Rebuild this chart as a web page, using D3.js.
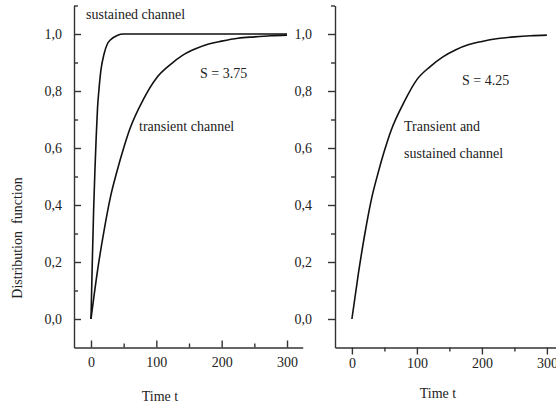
<!DOCTYPE html>
<html lang="en">
<head>
<meta charset="utf-8">
<title>Distribution function</title>
<script src="https://d3js.org/d3.v7.min.js"></script>
<style>
  body { margin: 0; background: white; }
  svg text { font-family: "Liberation Serif", Tinos, "Times New Roman", Times, "DejaVu Serif", serif; fill: #222; }
  .axis path, .axis line { stroke: #333; stroke-width: 1.4; }
  .axis text { font-size: 14px; }
  .curve { fill: none; stroke: #111; stroke-width: 1.6; }
</style>
</head>
<body>
<script>
// data
var times = [0, 10, 20, 30, 40, 50, 60, 80, 100, 120, 140, 160, 180, 200, 225, 250, 275, 300];
var transient = [0, 0.17, 0.31, 0.43, 0.52, 0.60, 0.67, 0.77, 0.845, 0.89, 0.925, 0.948, 0.965, 0.975, 0.985, 0.99, 0.994, 0.996];
var combined = [0, 0.16, 0.30, 0.42, 0.51, 0.59, 0.66, 0.76, 0.84, 0.885, 0.92, 0.945, 0.963, 0.974, 0.984, 0.99, 0.994, 0.996];

var sustTimes = [0, 2, 4, 6, 8, 10, 12, 15, 20, 25, 30, 40, 50, 60, 100, 200, 300];
var sustained = [0, 0.2, 0.38, 0.52, 0.64, 0.74, 0.8, 0.87, 0.93, 0.965, 0.98, 0.995, 1.0, 1.0, 1.0, 1.0, 1.0];

var yMajor = [0, 0.2, 0.4, 0.6, 0.8, 1.0];
var yMinor = [0.1, 0.3, 0.5, 0.7, 0.9, 1.1];
var xMajor = [0, 100, 200, 300];
var xMinor = [50, 150, 250];

var w = 556, h = 409;
var serif = '"Liberation Serif", Tinos, "Times New Roman", Times, "DejaVu Serif", serif';
var svg = d3.select("body").append("svg").attr("width", w).attr("height", h)
    .attr("font-family", serif);

var y = d3.scaleLinear().domain([-0.1, 1.1]).range([347.5, 5.5]);
var fmt = function(d) { return d3.format(".1f")(d).replace(".", ","); };

// one panel: left edge, direction of ticks (-1 inward, 1 outward)
function panel(x0, x1, dir, curves) {
    var x = d3.scaleLinear().domain([-26, 324]).range([x0, x1]);
    var tMaj = 7 * dir, tMin = 4 * dir;

    svg.append("g").attr("class", "axis")
        .attr("transform", "translate(" + x0 + ",0)")
        .call(d3.axisLeft(y).tickValues(yMinor).tickSize(tMin).tickSizeOuter(0).tickFormat(""));
    var ya = svg.append("g").attr("class", "axis")
        .attr("transform", "translate(" + x0 + ",0)")
        .call(d3.axisLeft(y).tickValues(yMajor).tickSize(tMaj).tickSizeOuter(0)
            .tickPadding(dir < 0 ? 12 : 16).tickFormat(fmt));
    ya.select(".domain").remove();

    svg.append("g").attr("class", "axis")
        .attr("transform", "translate(0," + y(-0.1) + ")")
        .call(d3.axisBottom(x).tickValues(xMinor).tickSize(tMin).tickSizeOuter(0).tickFormat(""));
    var xa = svg.append("g").attr("class", "axis")
        .attr("transform", "translate(0," + y(-0.1) + ")")
        .call(d3.axisBottom(x).tickValues(xMajor).tickSize(tMaj).tickSizeOuter(0)
            .tickPadding(dir < 0 ? 10 : 4));
    xa.select(".domain").remove();
    svg.selectAll(".axis").attr("font-family", serif);

    var line = d3.line().curve(d3.curveMonotoneX)
        .x(function(d) { return x(d[0]); })
        .y(function(d) { return y(d[1]); });
    curves.forEach(function(c) {
        svg.append("path").attr("class", "curve")
            .attr("d", line(d3.zip(c.t, c.v)));
    });
    return x;
}

panel(74, 302.7, -1, [
    {t: sustTimes, v: sustained},
    {t: times, v: transient}
]);
panel(335, 562.5, 1, [
    {t: times, v: combined}
]);

// labels
svg.append("text").attr("transform", "translate(22,238) rotate(-90)")
    .attr("text-anchor", "middle").style("font-size", "14px")
    .style("white-space", "pre").text("Distribution  function");
svg.append("text").attr("x", 160).attr("y", 401).attr("text-anchor", "middle")
    .style("font-size", "14px").text("Time t");
svg.append("text").attr("x", 438).attr("y", 398).attr("text-anchor", "middle")
    .style("font-size", "14px").text("Time t");

var notes = [
    {x: 86, y: 19, s: "sustained channel"},
    {x: 200, y: 78, s: "S = 3.75"},
    {x: 139, y: 131, s: "transient channel"},
    {x: 462, y: 85, s: "S = 4.25"},
    {x: 404, y: 131, s: "Transient and"},
    {x: 404, y: 158, s: "sustained channel"}
];
svg.selectAll("text.note").data(notes).enter().append("text")
    .attr("class", "note")
    .attr("x", function(d) { return d.x; })
    .attr("y", function(d) { return d.y; })
    .style("font-size", "14px")
    .text(function(d) { return d.s; });
</script>
</body>
</html>
